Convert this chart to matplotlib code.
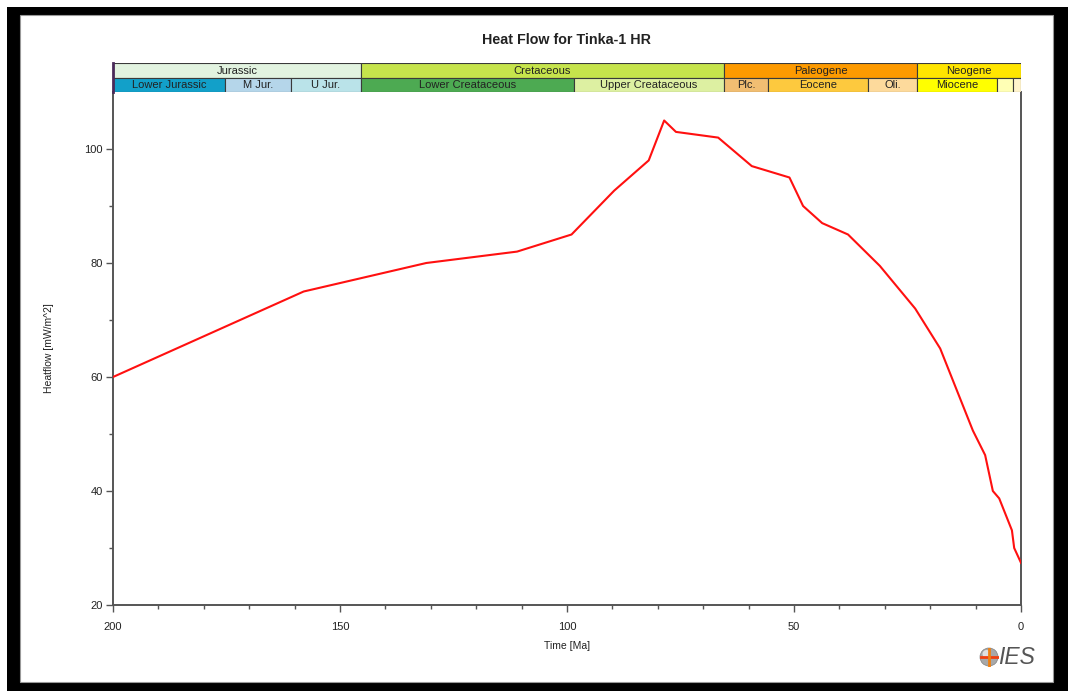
import matplotlib
matplotlib.use("Agg")
import matplotlib.pyplot as plt
from matplotlib.patches import Rectangle, Circle

plt.rcParams['font.family'] = ['Liberation Sans', 'DejaVu Sans']

# Heat flow history (time in Ma, heat flow in mW/m^2)
time_ma = [200, 158, 131, 111, 99, 89.6, 82, 78.6, 76, 66.7, 59.3, 51, 48, 43.8,
           38.1, 31.1, 23.3, 17.8, 10.6, 7.9, 6.2, 4.8, 2.0, 1.5, 0]
heatflow = [60, 75, 80, 82, 85, 92.7, 98, 105, 103, 102, 97, 95, 90, 87,
            85, 79.5, 72, 65, 50.6, 46.3, 40, 38.7, 33.1, 30, 27.4]

# Stratigraphic chart: (start Ma, end Ma, label, colour)
periods = [
    (200, 145.4, "Jurassic", "#E2F3E0"),
    (145.4, 65.4, "Cretaceous", "#C6E44C"),
    (65.4, 22.9, "Paleogene", "#FD9A00"),
    (22.9, 0, "Neogene", "#FFE500"),
]
epochs = [
    (200, 175.3, "Lower Jurassic", "#12A0C9"),
    (175.3, 160.8, "M Jur.", "#B5D6EA"),
    (160.8, 145.4, "U Jur.", "#BAE3E9"),
    (145.4, 98.5, "Lower Creataceous", "#4DAA52"),
    (98.5, 65.4, "Upper Creataceous", "#DDF0A2"),
    (65.4, 55.7, "Plc.", "#F1BE72"),
    (55.7, 33.7, "Eocene", "#FDC93E"),
    (33.7, 22.9, "Oli.", "#FDDA9C"),
    (22.9, 5.3, "Miocene", "#FFFF00"),
    (5.3, 1.8, "", "#FFFFB5"),
    (1.8, 0, "", "#FFF4CC"),
]

W, H = 1068, 691
fig = plt.figure(figsize=(W / 100, H / 100), dpi=100)
fig.patch.set_facecolor("white")

# Black picture frame (drawn beneath the axes)
fig.add_artist(Rectangle((7 / W, 0), (W - 7) / W, (H - 7) / H,
                         transform=fig.transFigure, facecolor="black",
                         edgecolor="none", zorder=-3))
fig.add_artist(Rectangle((20 / W, (H - 682) / H), (1053 - 20) / W, (682 - 15) / H,
                         transform=fig.transFigure, facecolor="white",
                         edgecolor="#999999", linewidth=0.8, zorder=-2))

left, right, top, bottom = 113, 1021, 92, 605
ax = fig.add_axes([left / W, (H - bottom) / H, (right - left) / W, (bottom - top) / H])
ax.patch.set_alpha(0)
ax.plot(time_ma, heatflow, color="#FF1010", linewidth=1.5, zorder=3)
ax.set_xlim(200, 0)
ax.set_ylim(20, 110)
ax.set_xticks([200, 150, 100, 50, 0])
ax.set_xticks(range(0, 201, 10), minor=True)
ax.set_yticks([20, 40, 60, 80, 100])
ax.set_yticks([30, 50, 70, 90], minor=True)
spine_c = "#555555"
for side in ["left", "bottom", "right"]:
    ax.spines[side].set_color(spine_c)
    ax.spines[side].set_linewidth(1.4)
ax.spines["top"].set_visible(False)
ax.tick_params(which="major", length=5, width=1, color=spine_c, labelsize=8,
               labelcolor="#222222", pad=2.5)
ax.tick_params(which="minor", length=3, width=1, color=spine_c)
ax.tick_params(axis="x", which="major", length=5, pad=7)
ax.set_xlabel("Time [Ma]", fontsize=7.5, color="#222222", labelpad=7)
ax.set_ylabel("Heatflow [mW/m^2]", fontsize=7.5, color="#222222", labelpad=22)

# Stratigraphic column above the plot
sax = fig.add_axes([left / W, (H - top) / H, (right - left) / W, (top - 63) / H])
sax.set_xlim(200, 0)
sax.set_ylim(0, 2)
sax.axis("off")
for rows, y0 in ((periods, 1), (epochs, 0)):
    for start, end, label, color in rows:
        sax.add_patch(Rectangle((start, y0), end - start, 1, facecolor=color,
                                edgecolor="#3A3A3A", linewidth=0.8))
        if label:
            sax.text((start + end) / 2, y0 + 0.45, label, ha="center", va="center",
                     fontsize=8, color="#222222")
sax.plot([200, 200], [0, 2], color="#4A2A5A", linewidth=2, clip_on=False)

fig.text((left + right) / 2 / W, (H - 40) / H, "Heat Flow for Tinka-1 HR",
         ha="center", va="center", fontsize=10.3, fontweight="bold", color="#222222")

# IES logo
lax = fig.add_axes([979 / W, (H - 667) / H, 20 / W, 20 / H])
lax.set_xlim(-1, 1)
lax.set_ylim(-1, 1)
lax.set_aspect("equal")
lax.axis("off")
lax.add_patch(Circle((0, 0), 0.9, facecolor="#A8A8A8", edgecolor="#808080", linewidth=0.5))
lax.add_patch(Circle((-0.25, 0.3), 0.4, facecolor="#E0E0E0", edgecolor="none"))
lax.plot([-0.85, 0.85], [0, 0], color="#F04010", linewidth=2)
lax.plot([0, 0], [-0.85, 0.85], color="#F08010", linewidth=2)
fig.text(998 / W, (H - 657) / H, "IES", ha="left", va="center", fontsize=16.5,
         fontstyle="italic", color="#555555")

fig.savefig("out.png", dpi=100)
